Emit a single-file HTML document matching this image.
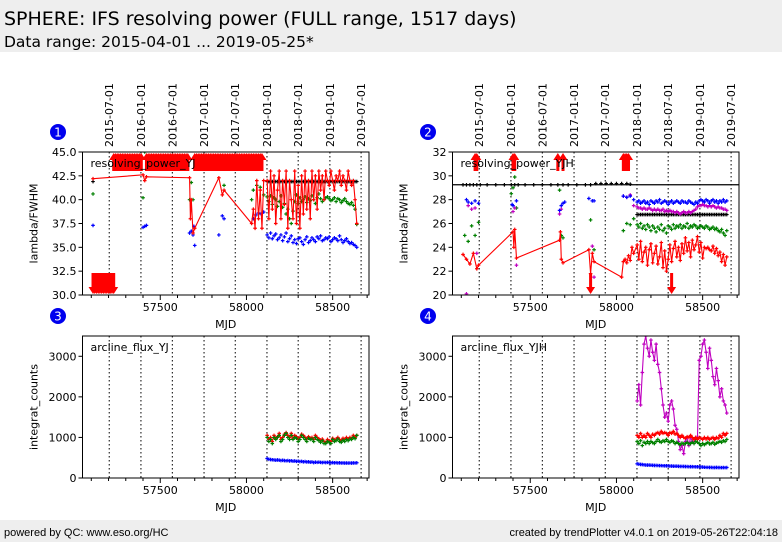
<!DOCTYPE html>
<html><head><meta charset="utf-8"><style>
body{margin:0;background:#fff;width:782px;height:542px;overflow:hidden;font-family:"DejaVu Sans","Liberation Sans",sans-serif}
svg{display:block}
</style></head><body>
<svg id="chart" width="782" height="542" viewBox="0 0 782 542" xmlns="http://www.w3.org/2000/svg" font-family="DejaVu Sans, Liberation Sans, sans-serif">
<rect x="0" y="0" width="782" height="52" fill="#eeeeee"/>
<text x="4" y="25" font-size="19" fill="#000">SPHERE: IFS resolving power (FULL range, 1517 days)</text>
<text x="4" y="47" font-size="15.5" fill="#000">Data range: 2015-04-01 ... 2019-05-25*</text>
<rect x="0" y="520" width="782" height="22" fill="#eeeeee"/>
<text x="4" y="536" font-size="11" font-family="Liberation Sans, sans-serif" fill="#000">powered by QC: www.eso.org/HC</text>
<text x="778" y="536" font-size="11" text-anchor="end" font-family="Liberation Sans, sans-serif" fill="#000">created by trendPlotter v4.0.1 on 2019-05-26T22:04:18</text>
<g id="plots"></g>
</svg>
<script>
// ---------- data ----------
const dateLabels = ["2015-07-01","2016-01-01","2016-07-01","2017-01-01","2017-07-01","2018-01-01","2018-07-01","2019-01-01","2019-07-01"];
const dateMjd = [57204,57388,57570,57754,57935,58119,58300,58484,58665];
const xTicks = [57500,58000,58500];
const dense = [58120,58130,58140,58150,58160,58170,58180,58190,58200,58210,58220,58230,58240,58250,58260,58270,58280,58290,58300,58310,58320,58330,58340,58350,58360,58370,58380,58390,58400,58410,58420,58430,58440,58450,58460,58470,58480,58490,58500,58510,58520,58530,58540,58550,58560,58570,58580,58590,58600,58610,58620,58630,58640];

// Panel 1: resolving_power_YJ
const p1RedMjd = [57110,57400,57410,57420,57670,57675,57680,57690,57700,57840,57860,57870,58030,58040,58050,58060,58070,58080,58090,58100];
const p1RedEarly = [42.2,42.6,42.0,42.4,42.3,38,40,36.5,37,42.3,40.5,41.0,37.5,39,37,42,38,41,37,42];
const p1RedDense = [42,38,43,39,42.5,37.5,41,43,38,42,39.5,43,37,42,40,38,43,37.5,41.5,37,42.5,38.5,43,39,42,38,43,40,42.5,39,43,41,42.5,40,43,42,41.5,43,42,41,42.5,42,43,41.5,42.5,42,41,43,42,41.5,42,40,37.5];
const p1UpMjd = [57230,57240,57250,57260,57270,57280,57290,57300,57310,57320,57330,57340,57350,57360,57370,57380,57390,57420,57430,57440,57450,57460,57470,57480,57490,57500,57510,57520,57530,57540,57550,57560,57570,57580,57590,57600,57610,57620,57630,57640,57650,57660,57700,57710,57720,57730,57740,57750,57760,57770,57780,57790,57800,57810,57820,57830,57840,57850,57860,57870,57880,57890,57900,57910,57920,57930,57940,57950,57960,57970,57980,57990,58000,58010,58020,58030,58040,58050,58060,58070,58080,58090];
const p1DownMjd = [57110,57120,57130,57140,57150,57160,57170,57180,57190,57200,57210,57220,57230];
const p1BlackMjd = [57110];
const p1BlackEarly = [41.9];
const p1BlackDense = [41.9,41.9,41.9,41.9,41.9,41.9,41.9,41.9,41.9,41.9,41.9,41.9,41.9,41.9,41.9,41.9,41.9,41.9,41.9,41.9,41.9,41.9,41.9,41.9,41.9,41.9,41.9,41.9,41.9,41.9,41.9,41.9,41.9,41.9,41.9,41.9,41.9,41.9,41.9,41.9,41.9,41.9,41.9,41.9,41.9,41.9,41.9,41.9,41.9,41.9,41.9,41.9,41.9];
const p1GreenMjd = [57110,57400,57410,57670,57680,57690,57850,57870,58030,58040,58060,58080,58100];
const p1GreenEarly = [40.6,40.2,45,40,41.8,40,43.3,41.5,40.0,41,41.5,41.3,40.5];
const p1GreenDense = [40.3,39.8,40.4,39.5,40.2,40.0,39.3,39.8,40.4,39.2,39.6,38.5,39.0,38.0,37.5,38.8,39.8,40.5,39.6,40.2,39.8,40.0,40.3,39.7,40.1,39.9,40.4,40.0,39.6,40.2,40.6,40.1,39.8,40.0,40.2,40.3,40.1,39.9,40.0,40.2,39.8,40.1,40.0,39.7,39.9,40.1,39.8,39.6,39.5,39.7,39.4,39.0,37.4];
const p1BlueMjd = [57110,57400,57410,57420,57670,57680,57690,57695,57700,57840,57860,57870,58040,58055,58070,58085,58100];
const p1BlueEarly = [37.3,37.1,37.2,37.3,36.5,36.7,36.3,37.2,35.2,36.3,38.3,38.0,38.0,38.4,38.6,38.5,38.7];
const p1BlueDense = [36.3,36.0,36.5,35.9,36.2,36.4,35.8,36.0,36.3,35.7,36.1,36.5,35.6,35.9,36.2,35.5,35.8,35.4,35.9,36.0,35.6,35.3,35.8,36.1,35.5,35.7,36.0,35.8,35.6,36.1,35.9,36.2,35.7,35.8,36.0,35.9,36.1,35.6,35.8,36.0,35.9,35.7,36.2,35.8,35.5,35.7,35.9,35.6,35.4,35.5,35.3,35.2,35.0];

// Panel 2: resolving_power_YJH
const p2RefLine = [29.25];
const p2RedMjd = [57110,57130,57150,57170,57190,57200,57400,57405,57410,57420,57670,57675,57680,57690,57840,57850,57860,57870,58030,58040,58050,58060,58070,58080,58090,58100];
const p2RedEarly = [23.4,23.0,22.6,23.5,22.2,22.5,25.3,24.0,25.5,23.1,24.6,25.3,23.0,22.7,23.8,21.8,23.5,22.8,21.5,22.8,23.0,22.7,23.3,22.9,24.0,23.5];
const p2RedDense = [24.2,23.0,24.5,22.8,23.6,24.0,22.5,23.8,24.3,22.7,23.5,24.1,22.6,23.2,24.4,22.3,23.7,22.0,23.0,24.2,22.8,23.9,24.5,23.2,24.0,22.9,24.3,23.5,24.8,23.7,24.4,23.2,24.6,23.8,24.2,24.9,23.6,24.4,23.1,24.0,23.9,24.0,23.8,23.7,24.1,23.5,23.9,23.3,23.6,22.8,23.4,22.5,23.2];
const p2UpMjd = [57180,57190,57400,57410,57660,57690,58040,58050,58060,58070];
const p2DownMjd = [57850,58320];
const p2BlackTopMjd = [57110,57130,57150,57170,57190,57210,57250,57300,57350,57390,57410,57430,57470,57520,57570,57620,57660,57690,57720,57770,57820,57850,57880,57910,57940,57970,58000,58030,58060,58080];
const p2BlackTop = [29.25,29.25,29.25,29.25,29.25,29.25,29.25,29.25,29.25,29.25,29.25,29.25,29.25,29.25,29.25,29.25,29.25,29.25,29.25,29.25,29.25,29.25,29.35,29.35,29.35,29.35,29.35,29.35,29.35,29.3];
const p2BlackDense = [26.75,26.75,26.75,26.75,26.75,26.75,26.75,26.75,26.75,26.75,26.75,26.75,26.75,26.75,26.75,26.75,26.75,26.75,26.75,26.75,26.75,26.75,26.75,26.75,26.75,26.75,26.75,26.75,26.75,26.75,26.75,26.75,26.75,26.75,26.75,26.75,26.75,26.75,26.75,26.75,26.75,26.75,26.75,26.75,26.75,26.75,26.75,26.75,26.75,26.75,26.75,26.75,26.75];
const p2BlueMjd = [57130,57140,57160,57180,57200,57395,57400,57420,57670,57680,57690,57700,57840,57860,57870,58040,58060,58080,58100];
const p2BlueEarly = [28,27.8,27.7,27.9,27.7,27.6,27.5,27.9,27.1,27.5,27.7,27.8,28.1,27.9,27.9,28.3,28.2,28.3,28.0];
const p2BlueDense = [27.8,27.9,27.7,27.8,27.9,27.7,27.8,27.6,27.9,27.8,27.7,27.9,27.8,28.0,27.7,27.8,27.9,27.8,27.6,27.8,27.9,27.7,27.8,27.9,27.8,27.7,27.9,27.8,27.8,27.7,27.9,27.8,27.7,27.6,27.8,27.7,27.9,28.0,27.9,27.8,28.0,27.9,27.7,27.9,28.0,27.8,27.9,27.7,27.9,27.8,28.0,27.8,27.9];
const p2MagMjd = [57130,57140,57160,57180,57190,57400,57410,57420,57670,57680,57860,57870,58040,58060,58080,58100];
const p2MagEarly = [20.1,27.5,27.2,27.3,23.5,27.0,27.3,22.5,26.8,27.2,24.1,21.5,28.3,28.2,28.4,27.5];
const p2MagDense = [27.4,27.3,27.3,27.2,27.3,27.2,27.2,27.3,27.2,27.1,27.2,27.1,27.2,27.1,27.1,27.2,27.0,27.1,27.0,27.1,27.0,27.0,26.9,27.0,26.9,26.8,26.9,27.0,26.9,26.9,27.0,26.9,27.0,27.1,27.2,27.4,27.5,27.5,27.6,27.5,27.5,27.4,27.5,27.4,27.5,27.4,27.3,27.4,27.3,27.3,27.2,27.2,27.1];
const p2GreenMjd = [57120,57140,57160,57180,57200,57390,57400,57410,57420,57670,57680,57690,57850,57870,58040,58060,58080,58100];
const p2GreenEarly = [25,24.5,25.8,25.0,26.1,28.5,29.0,29.9,27.3,28.8,25,24.8,26.3,23.8,25.4,26.0,25.9,26.4];
const p2GreenDense = [25.9,25.7,26.0,25.6,25.8,25.5,25.9,25.7,25.4,25.8,25.6,25.3,25.7,25.5,25.9,25.4,25.6,25.2,25.8,25.7,25.5,25.9,25.6,25.8,25.7,25.9,25.6,25.8,25.7,26.0,25.6,25.8,25.7,25.9,25.8,25.6,25.7,25.8,25.7,25.6,25.8,25.7,25.5,25.6,25.7,25.5,25.6,25.4,25.3,25.5,25.2,25.0,25.4];

// Panel 3: arcline_flux_YJ
const p3Red = [1050,950,1000,900,1050,980,1020,1100,950,1000,1080,1120,1050,1000,1100,980,1050,1020,950,1000,1080,1050,1000,960,1020,980,1000,950,1050,1000,970,920,960,900,880,950,920,900,980,940,960,1000,950,920,980,950,1000,960,1000,980,1050,1000,1050];
const p3Green = [1000,900,950,850,1000,950,1000,1050,900,950,1050,1100,1000,950,1050,950,1000,980,900,950,1050,1000,950,900,980,950,960,900,1000,950,920,880,920,850,850,900,880,850,950,900,920,960,900,880,930,900,950,920,960,950,1000,970,1050];
const p3Blue = [480,460,455,450,445,440,445,440,430,435,430,425,430,420,425,415,420,410,415,405,410,400,405,395,400,390,395,380,390,385,390,385,380,385,380,385,380,375,380,375,378,372,375,370,372,368,370,368,370,368,372,370,375];

// Panel 4: arcline_flux_YJH
const p4Mag = [1900,2300,1800,2600,3300,3500,3200,3000,3400,3100,2900,3300,2800,2600,2200,1800,1500,1600,1400,1800,1900,1700,1300,1200,900,700,800,600,900,1000,800,1000,900,900,1000,1000,2900,3000,3300,3400,3100,2700,3200,2900,2500,2300,2700,2400,2000,2200,1900,1800,1600];
const p4Red = [1050,1000,1100,1000,1050,1000,1100,1050,1000,1080,1050,1100,1120,1080,1150,1100,1120,1100,1050,1120,1100,1150,1080,1100,1050,1000,1050,1000,980,1020,1000,1050,1000,950,1000,950,1000,980,950,1000,960,1000,950,980,1000,950,1000,980,1050,1000,1100,1050,1100];
const p4Green = [900,850,920,800,880,850,900,850,900,870,850,900,950,900,880,920,900,950,900,880,920,900,850,880,850,820,860,840,850,880,840,850,880,850,900,880,850,800,850,820,850,880,840,850,880,830,860,880,900,880,920,900,950];
const p4Blue = [350,340,335,330,325,320,320,318,315,312,310,310,308,305,305,302,300,300,298,295,295,292,290,290,288,286,285,284,283,282,280,280,278,277,276,275,274,272,270,265,262,262,260,260,258,258,260,258,257,256,258,256,258];

// ---------- rendering ----------
const NS = "http://www.w3.org/2000/svg";
const root = document.getElementById("plots");
const K = 0.1724, M0 = 57049;
function mk(tag, attrs, parent) {
  const e = document.createElementNS(NS, tag);
  for (const k in attrs) e.setAttribute(k, attrs[k]);
  (parent || root).appendChild(e);
  return e;
}
function panel(cfg) {
  const g = mk("g", {});
  
  
  const L = cfg.left, R = cfg.left + 286.5, T = cfg.top, B = cfg.bottom;
  const xs = m => L + (m - M0) * K;
  const ys = v => B - (v - cfg.ymin) / (cfg.ymax - cfg.ymin) * (B - T);
  const clip = "clip-" + cfg.name;
  const cp = mk("clipPath", { id: clip }, g);
  mk("rect", { x: L, y: T, width: R - L, height: B - T }, cp);
  dateMjd.forEach((m, i) => {
    const x = xs(m);
    const ln = mk("line", { x1: x, x2: x, y1: T, y2: B, stroke: "#000", "stroke-width": 1, "stroke-dasharray": "1.5,2.5" }, g);
    
    
    if (cfg.dates) {
      const t = mk("text", { x: x + 4, y: 147, "font-size": 11, "text-anchor": "start", transform: `rotate(-90 ${x + 4} 147)` }, g);
      t.textContent = dateLabels[i];
      
      
    }
  });
  const dg = mk("g", { "clip-path": `url(#${clip})` }, g);
  if (cfg.hline) cfg.hline.forEach(v => {
    const h = mk("line", { x1: L, x2: R, y1: ys(v), y2: ys(v), stroke: "#000", "stroke-width": 1.2 }, dg);
    
    
  });
  cfg.series.forEach(s => {
    const pts = [];
    for (let i = 0; i < Math.min(s.x.length, s.y.length); i++) pts.push([xs(s.x[i]), ys(s.y[i])]);
    if (s.line) {
      const p = mk("polyline", { points: pts.map(p => p.join(",")).join(" "), fill: "none", stroke: s.color, "stroke-width": 1.1 }, dg);
      
      
    }
    let d = "";
    pts.forEach(([x, y]) => { d += `M${x - 1.8} ${y}h3.6M${x} ${y - 1.8}v3.6`; });
    const pm = mk("path", { d: d, stroke: s.color, "stroke-width": 1.2, fill: "none" }, dg);
    
    
  });
  (cfg.up || []).forEach(m => {
    const x = xs(m);
    const a = mk("path", { d: `M${x - 4.5} ${T + 8}L${x} ${T + 1}L${x + 4.5} ${T + 8}ZM${x - 1.5} ${T + 7}h3v12h-3Z`, fill: "#ff0000" }, g);
    
    
  });
  (cfg.down || []).forEach(m => {
    const x = xs(m);
    const a = mk("path", { d: `M${x - 4.5} ${B - 8}L${x} ${B - 1}L${x + 4.5} ${B - 8}ZM${x - 1.5} ${B - 7}h3v-15h-3Z`, fill: "#ff0000" }, g);
    
    
  });
  const fr = mk("rect", { x: L, y: T, width: R - L, height: B - T, fill: "none", stroke: "#000", "stroke-width": 1 }, g);
  
  
  for (let m = 57100; m <= 58700; m += 100) {
    const x = xs(m), major = xTicks.includes(m);
    mk("line", { x1: x, x2: x, y1: B, y2: B + (major ? 5 : 3), stroke: "#000" }, g);
  }
  xTicks.forEach(m => {
    const t = mk("text", { x: xs(m), y: B + 16, "font-size": 11, "text-anchor": "middle" }, g);
    t.textContent = m;
    
    
  });
  cfg.yticks.forEach(v => {
    const y = ys(v);
    mk("line", { x1: L - 4, x2: L, y1: y, y2: y, stroke: "#000" }, g);
    const t = mk("text", { x: L - 6, y: y + 4, "font-size": 11, "text-anchor": "end" }, g);
    t.textContent = cfg.fmt(v);
    
    
  });
  const xl = mk("text", { x: (L + R) / 2, y: B + 33, "font-size": 11, "text-anchor": "middle" }, g);
  xl.textContent = "MJD";
  
  
  const yx = L - 45, yy = (T + B) / 2;
  const yl = mk("text", { x: yx, y: yy, "font-size": 11, "text-anchor": "middle", transform: `rotate(-90 ${yx} ${yy})` }, g);
  yl.textContent = cfg.ylabel;
  
  
  const pl = mk("text", { x: L + 8, y: T + 15, "font-size": 11 }, g);
  pl.textContent = cfg.label;
  
  
  const bx = L - 24.5, by = T - 20;
  const c = mk("circle", { cx: bx, cy: by, r: 8, fill: "#0000ee" }, g);
  
  
  const bt = mk("text", { x: bx, y: by + 4.5, "font-size": 12, fill: "#fff", "text-anchor": "middle" }, g);
  bt.textContent = cfg.num;
  
  
}
const f1 = v => v.toFixed(1), f0 = v => String(v);
panel({ name: "panel-resolving-power-yj", num: "1", left: 82.5, top: 152, bottom: 295, ymin: 30, ymax: 45, yticks: [30,32.5,35,37.5,40,42.5,45], fmt: f1, dates: true,
  ylabel: "lambda/FWHM", label: "resolving_power_YJ", up: p1UpMjd, down: p1DownMjd,
  series: [
    { name: "black-series", color: "#000", x: p1BlackMjd.concat(dense), y: p1BlackEarly.concat(p1BlackDense) },
    { name: "green-series", color: "#008000", x: p1GreenMjd.concat(dense), y: p1GreenEarly.concat(p1GreenDense) },
    { name: "blue-series", color: "#0000ff", x: p1BlueMjd.concat(dense), y: p1BlueEarly.concat(p1BlueDense) },
    { name: "red-series", color: "#ff0000", line: true, x: p1RedMjd.concat(dense), y: p1RedEarly.concat(p1RedDense) }
  ] });
panel({ name: "panel-resolving-power-yjh", num: "2", left: 452.5, top: 152, bottom: 295, ymin: 20, ymax: 32, yticks: [20,22,24,26,28,30,32], fmt: f0, dates: true,
  ylabel: "lambda/FWHM", label: "resolving_power_YJH", up: p2UpMjd, down: p2DownMjd, hline: p2RefLine,
  series: [
    { name: "black-top-series", color: "#000", x: p2BlackTopMjd, y: p2BlackTop },
    { name: "black-series", color: "#000", x: dense, y: p2BlackDense },
    { name: "green-series", color: "#008000", x: p2GreenMjd.concat(dense), y: p2GreenEarly.concat(p2GreenDense) },
    { name: "magenta-series", color: "#c000c0", x: p2MagMjd.concat(dense), y: p2MagEarly.concat(p2MagDense) },
    { name: "blue-series", color: "#0000ff", x: p2BlueMjd.concat(dense), y: p2BlueEarly.concat(p2BlueDense) },
    { name: "red-series", color: "#ff0000", line: true, x: p2RedMjd.concat(dense), y: p2RedEarly.concat(p2RedDense) }
  ] });
panel({ name: "panel-arcline-flux-yj", num: "3", left: 82.5, top: 336, bottom: 478, ymin: 0, ymax: 3500, yticks: [0,1000,2000,3000], fmt: f0, dates: false,
  ylabel: "integrat_counts", label: "arcline_flux_YJ",
  series: [
    { name: "blue-series", color: "#0000ff", line: true, x: dense, y: p3Blue },
    { name: "red-series", color: "#ff0000", line: true, x: dense, y: p3Red },
    { name: "green-series", color: "#008000", x: dense, y: p3Green }
  ] });
panel({ name: "panel-arcline-flux-yjh", num: "4", left: 452.5, top: 336, bottom: 478, ymin: 0, ymax: 3500, yticks: [0,1000,2000,3000], fmt: f0, dates: false,
  ylabel: "integrat_counts", label: "arcline_flux_YJH",
  series: [
    { name: "magenta-series", color: "#c000c0", line: true, x: dense, y: p4Mag },
    { name: "blue-series", color: "#0000ff", line: true, x: dense, y: p4Blue },
    { name: "red-series", color: "#ff0000", line: true, x: dense, y: p4Red },
    { name: "green-series", color: "#008000", x: dense, y: p4Green }
  ] });
</script>
</body></html>
